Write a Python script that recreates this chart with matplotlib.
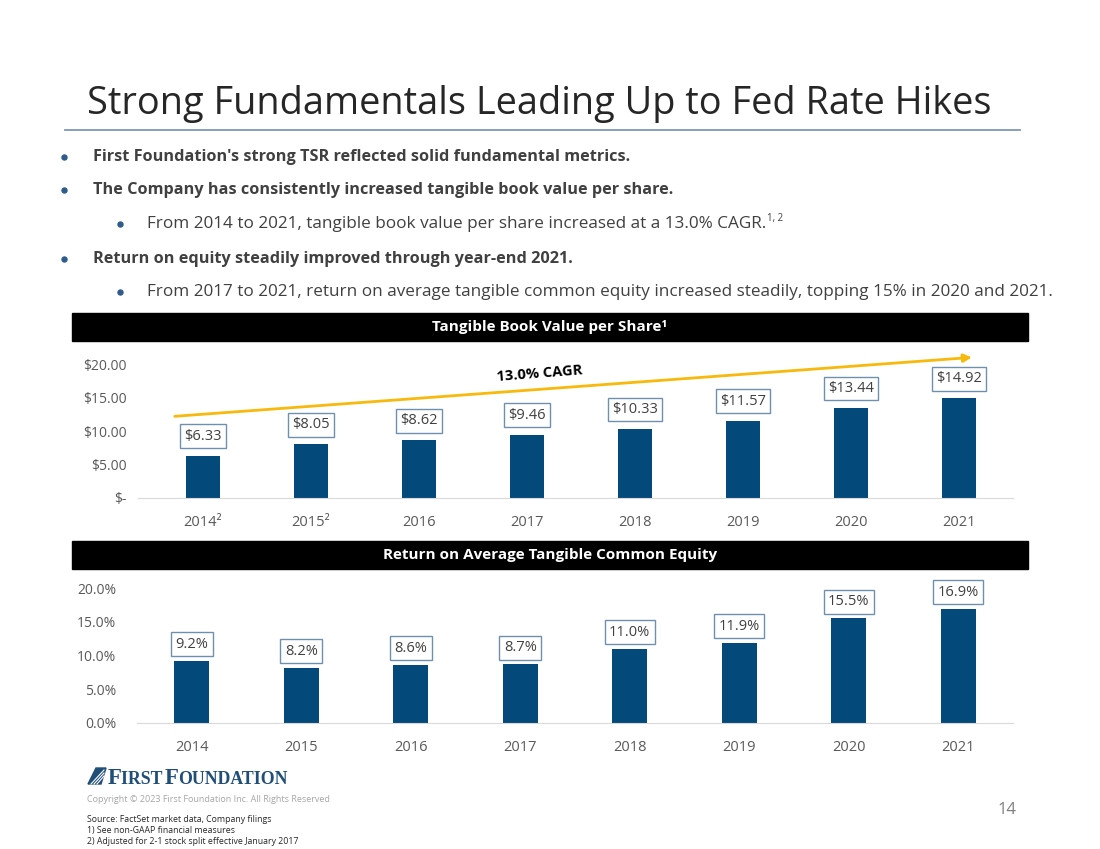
import matplotlib
matplotlib.use("Agg")
import matplotlib.pyplot as plt
from matplotlib.patches import Rectangle, Polygon

# ---- data ----
years = ["2014", "2015", "2016", "2017", "2018", "2019", "2020", "2021"]
tbv_year_labels = ["2014²", "2015²", "2016", "2017", "2018", "2019", "2020", "2021"]
tbv_values = [6.33, 8.05, 8.62, 9.46, 10.33, 11.57, 13.44, 14.92]
rotce_values = [9.2, 8.2, 8.6, 8.7, 11.0, 11.9, 15.5, 16.9]
tbv_ticks = [0, 5, 10, 15, 20]
tbv_tick_labels = ["$-", "$5.00", "$10.00", "$15.00", "$20.00"]
rotce_ticks = [0, 5, 10, 15, 20]
rotce_tick_labels = ["0.0%", "5.0%", "10.0%", "15.0%", "20.0%"]

BAR = "#03497a"
BOX_EDGE = "#6f8fae"
GRAY = "#595959"
FONT = "Open Sans"

plt.rcParams["font.family"] = [FONT, "DejaVu Sans"]

W, H = 1100, 849
fig = plt.figure(figsize=(W / 100, H / 100), dpi=100)


def fx(px):
    return px / W


def fy(py):
    return 1 - py / H


def ax_rect(left, top, right, bottom):
    return [fx(left), fy(bottom), (right - left) / W, (bottom - top) / H]


# ---- title and bullets ----
fig.text(fx(87), fy(104), "Strong Fundamentals Leading Up to Fed Rate Hikes",
         fontsize=27.3, color="#262626", va="center", ha="left")
fig.add_artist(plt.Line2D([fx(65), fx(1020)], [fy(130), fy(130)],
                          color="#7f98ad", lw=1.3))

bullets = [
    (157, 0, "First Foundation's strong TSR reflected solid fundamental metrics.", "bold"),
    (190, 0, "The Company has consistently increased tangible book value per share.", "bold"),
    (224, 1, "From 2014 to 2021, tangible book value per share increased at a 13.0% CAGR.", "normal"),
    (259, 0, "Return on equity steadily improved through year-end 2021.", "bold"),
    (292, 1, "From 2017 to 2021, return on average tangible common equity increased steadily, topping 15% in 2020 and 2021.", "normal"),
]
sup = None
for y, lvl, txt, wt in bullets:
    bx = 64 if lvl == 0 else 120
    tx = 93 if lvl == 0 else 147
    fig.add_artist(plt.Line2D([fx(bx)], [fy(y)], marker="o", markersize=3.6,
                              color="#2e5c8a", lw=0))
    t = fig.text(fx(tx), fy(y), txt, fontsize=11.7 if wt == "bold" else 12.3,
                 fontweight=wt, color="#404040", va="center")
    if "CAGR." in txt:
        sup = t
fig.canvas.draw()
bb = sup.get_window_extent()
fig.text(bb.x1 / W + 0.001, bb.y1 / H + 0.003, "1, 2", fontsize=7,
         color="#404040", va="top")

# ---- section headers ----
for top, label in [(313, "Tangible Book Value per Share¹"),
                   (541, "Return on Average Tangible Common Equity")]:
    fig.add_artist(Rectangle((fx(72), fy(top + 28)), (1028 - 72) / W, 28 / H,
                             transform=fig.transFigure, color="black"))
    fig.text(fx(550), fy(top + 14), label, fontsize=11, fontweight="bold",
             color="white", ha="center", va="center")


def style_axes(ax, ticks, tick_labels, xlabels, ypad):
    for s in ["top", "right", "left"]:
        ax.spines[s].set_visible(False)
    ax.spines["bottom"].set_color("#d9d9d9")
    ax.set_yticks(ticks)
    ax.set_yticklabels(tick_labels)
    ax.set_xticks(range(len(xlabels)))
    ax.set_xticklabels(xlabels)
    ax.tick_params(axis="y", length=0, pad=ypad, labelsize=10, labelcolor=GRAY)
    ax.tick_params(axis="x", length=0, pad=12, labelsize=10.5, labelcolor=GRAY)
    ax.patch.set_alpha(0)


# ---- chart 1: tangible book value ----
ax1 = fig.add_axes(ax_rect(138, 344, 1013, 498))
ax1.bar(range(len(years)), tbv_values, width=0.315, color=BAR)
ax1.set_xlim(-0.6, 7.5)
ax1.set_ylim(0, 23)
style_axes(ax1, tbv_ticks, tbv_tick_labels, tbv_year_labels, 8)
for i, v in enumerate(tbv_values):
    ax1.annotate(f"${v:.2f}", (i, v), xytext=(0, 14), textcoords="offset points",
                 ha="center", va="center", fontsize=10.5, color="#404040",
                 annotation_clip=False,
                 bbox=dict(boxstyle="square,pad=0.3", fc="white", ec=BOX_EDGE, lw=1))
ax1.annotate("", xy=(7.12, 21.0), xytext=(-0.26, 12.2),
             arrowprops=dict(arrowstyle="-|>", color="#f7b90c", lw=2,
                             mutation_scale=12, shrinkA=0, shrinkB=0),
             annotation_clip=False)
ax1.text(3.12, 18.5, "13.0% CAGR", fontsize=10.5, fontweight="bold",
         color="black", ha="center", va="center", rotation=4.5)

# ---- chart 2: return on average tangible common equity ----
ax2 = fig.add_axes(ax_rect(137, 578, 1013, 723))
ax2.bar(range(len(years)), rotce_values, width=0.32, color=BAR)
ax2.set_xlim(-0.5, 7.5)
ax2.set_ylim(0, 21.5)
style_axes(ax2, rotce_ticks, rotce_tick_labels, years, 15)
for i, v in enumerate(rotce_values):
    ax2.annotate(f"{v:.1f}%", (i, v), xytext=(0, 12), textcoords="offset points",
                 ha="center", va="center", fontsize=10.5, color="#404040",
                 annotation_clip=False,
                 bbox=dict(boxstyle="square,pad=0.3", fc="white", ec=BOX_EDGE, lw=1))

# ---- footer ----
LOGO = "#1f4e79"
fig.add_artist(Polygon([(fx(88), fy(784)), (fx(96), fy(768)), (fx(106), fy(768)),
                        (fx(101), fy(784))], closed=True, color=LOGO,
                       transform=fig.transFigure))
for k in range(3):
    fig.add_artist(plt.Line2D([fx(91 + 3 * k), fx(104)], [fy(784), fy(770 + 3 * k)],
                              color="white", lw=0.8))
x = 108
fig.canvas.draw()
r = fig.canvas.get_renderer()
for piece, size in [("F", 16.5), ("IRST ", 12.8), ("F", 16.5), ("OUNDATION", 12.8)]:
    t = fig.text(fx(x), fy(784), piece, fontsize=size, fontweight="bold",
                 family="Liberation Serif", color=LOGO, va="baseline")
    x += t.get_window_extent(renderer=r).width * 0.96

fig.text(fx(87), fy(799), "Copyright © 2023 First Foundation Inc. All Rights Reserved",
         fontsize=6.5, color="#a6a6a6", va="center")
fig.text(fx(1007), fy(810), "14", fontsize=12, color="#7f7f7f",
         ha="center", va="center")
for y, s in [(819, "Source: FactSet market data, Company filings"),
             (830, "1) See non-GAAP financial measures"),
             (841, "2) Adjusted for 2-1 stock split effective January 2017")]:
    fig.text(fx(87), fy(y), s, fontsize=6.3, color="#262626", va="center")

fig.savefig("out.png", dpi=100)
